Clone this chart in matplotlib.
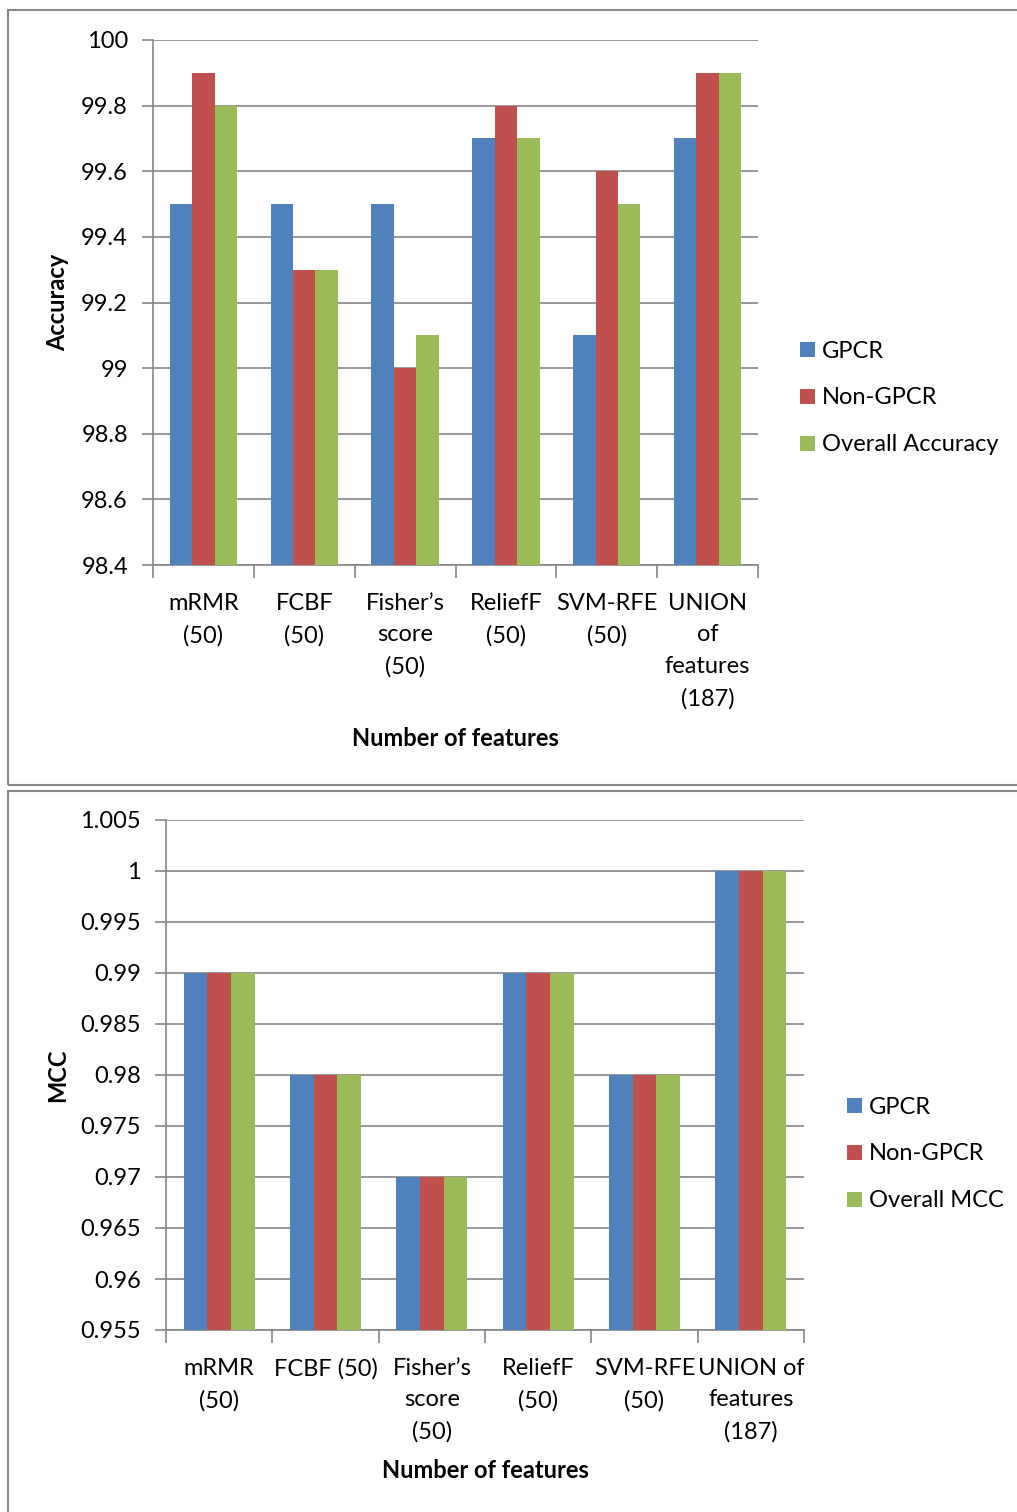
import numpy as np
import matplotlib.pyplot as plt
from matplotlib.patches import Rectangle

plt.rcParams['font.family'] = ['Lato', 'DejaVu Sans']

# Accuracy per feature selection method
acc_categories = ['mRMR\n(50)', 'FCBF\n(50)', 'Fisher\u2019s\nscore\n(50)',
                  'ReliefF\n(50)', 'SVM-RFE\n(50)', 'UNION\nof\nfeatures\n(187)']
acc_gpcr = [99.5, 99.5, 99.5, 99.7, 99.1, 99.7]
acc_non_gpcr = [99.9, 99.3, 99.0, 99.8, 99.6, 99.9]
acc_overall = [99.8, 99.3, 99.1, 99.7, 99.5, 99.9]

# MCC per feature selection method
mcc_categories = ['mRMR\n(50)', 'FCBF (50)', 'Fisher\u2019s\nscore\n(50)',
                  'ReliefF\n(50)', 'SVM-RFE\n(50)', 'UNION of\nfeatures\n(187)']
mcc_gpcr = [0.99, 0.98, 0.97, 0.99, 0.98, 1.0]
mcc_non_gpcr = [0.99, 0.98, 0.97, 0.99, 0.98, 1.0]
mcc_overall = [0.99, 0.98, 0.97, 0.99, 0.98, 1.0]

acc_yticks = np.round(np.arange(98.4, 100.01, 0.2), 1)
mcc_yticks = np.round(np.arange(0.955, 1.0051, 0.005), 3)

BLUE, RED, GREEN = '#4F81BD', '#C0504D', '#9BBB59'
GRID = '#868686'
W, H = 1017, 1512
FS = 17

fig = plt.figure(figsize=(W / 100, H / 100), dpi=100)


def px_axes(x0, y0, x1, y1):
    return fig.add_axes([x0 / W, 1 - y1 / H, (x1 - x0) / W, (y1 - y0) / H])


def draw_panel(ax, cats, series, names, yticks, ylabel, leg_xy):
    x = np.arange(len(cats))
    bw = 1 / 4.5
    colors = [BLUE, RED, GREEN]
    for i, (vals, name) in enumerate(zip(series, names)):
        ax.bar(x + (i - 1) * bw, vals, width=bw, color=colors[i], label=name,
               zorder=3)
    ax.set_xlim(-0.5, len(cats) - 0.5)
    ax.set_ylim(yticks[0], yticks[-1])
    ax.set_yticks(yticks)
    ax.set_yticklabels([f'{v:g}' for v in yticks], fontsize=FS)
    ax.yaxis.grid(True, color=GRID, linewidth=1.2, zorder=0)
    ax.set_xticks(x)
    ax.set_xticklabels(cats, fontsize=FS, linespacing=1.62)
    ax.tick_params(axis='x', length=0, pad=20)
    ax.set_xticks(np.arange(-0.5, len(cats)), minor=True)
    ax.tick_params(axis='x', which='minor', length=9, width=1.2, color=GRID)
    ax.tick_params(axis='y', length=8, width=1.2, color=GRID, pad=10)
    for s in ['top', 'right']:
        ax.spines[s].set_visible(False)
    for s in ['left', 'bottom']:
        ax.spines[s].set_color(GRID)
        ax.spines[s].set_linewidth(1.2)
    ax.set_ylabel(ylabel, fontsize=FS, fontweight='bold')
    ax.set_xlabel('Number of features', fontsize=FS, fontweight='bold')
    ax.legend(loc='center left', bbox_to_anchor=(leg_xy[0] / W, 1 - leg_xy[1] / H),
              bbox_transform=fig.transFigure, frameon=False, fontsize=FS,
              handlelength=0.6, handleheight=0.6, handletextpad=0.3,
              labelspacing=1.1, borderaxespad=0)


ax1 = px_axes(153, 40, 758, 565)
draw_panel(ax1, acc_categories, [acc_gpcr, acc_non_gpcr, acc_overall],
           ['GPCR', 'Non-GPCR', 'Overall Accuracy'], acc_yticks, 'Accuracy',
           (791, 398))
ax1.yaxis.set_label_coords(-(153 - 69) / 605, 0.5)
ax1.xaxis.set_label_coords(0.5, -(727 - 565) / 525)

ax2 = px_axes(166, 820, 804, 1330)
draw_panel(ax2, mcc_categories, [mcc_gpcr, mcc_non_gpcr, mcc_overall],
           ['GPCR', 'Non-GPCR', 'Overall MCC'], mcc_yticks, 'MCC',
           (838, 1154))
ax2.yaxis.set_label_coords(-(166 - 69) / 638, 0.5)
ax2.xaxis.set_label_coords(0.5, -(1459 - 1330) / 510)

# chart frames
for (x0, y0, x1, y1) in [(8, 10, 1040, 785), (8, 791, 1040, 1540)]:
    fig.patches.append(Rectangle((x0 / W, 1 - y1 / H), (x1 - x0) / W,
                                 (y1 - y0) / H, transform=fig.transFigure,
                                 fill=False, edgecolor='#888888', linewidth=1.5))

fig.savefig('out.png', dpi=100)
